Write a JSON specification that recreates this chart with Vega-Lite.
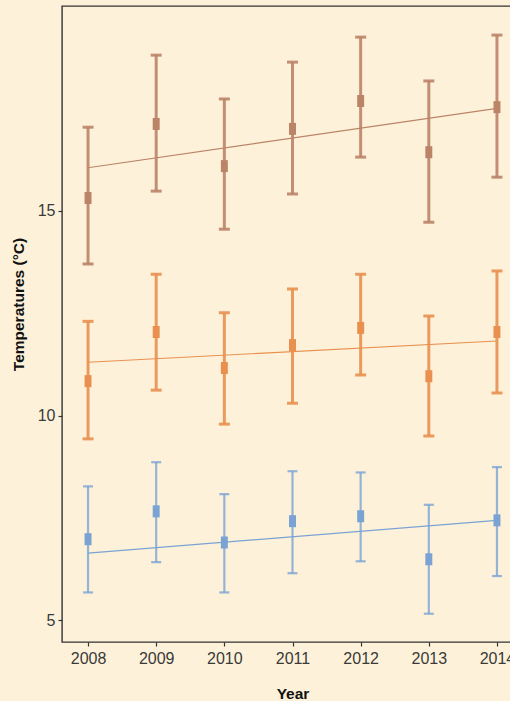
{
  "$schema": "https://vega.github.io/schema/vega-lite/v6.json",
  "autosize": "none",
  "width": 461,
  "height": 636,
  "padding": {"left": 62, "top": 6, "right": 0, "bottom": 59},
  "background": "#fdf2d9",
  "config": {
    "view": {"stroke": "#333333", "strokeWidth": 1.4, "fill": "#fdf2d9"},
    "axis": {
      "domain": false,
      "grid": false,
      "labelFont": "Liberation Sans",
      "labelFontSize": 16,
      "labelColor": "#3a3a3a",
      "tickColor": "#333333",
      "tickSize": 4,
      "tickWidth": 1.2,
      "titleFont": "Liberation Sans",
      "titleFontSize": 15.5,
      "titleFontWeight": "bold",
      "titleColor": "#111111"
    }
  },
  "datasets": {
    "pts": [
      {"year": 2008, "series": "high", "mean": 15.31, "lo": 13.70, "hi": 17.04},
      {"year": 2009, "series": "high", "mean": 17.12, "lo": 15.48, "hi": 18.80},
      {"year": 2010, "series": "high", "mean": 16.09, "lo": 14.55, "hi": 17.73},
      {"year": 2011, "series": "high", "mean": 17.00, "lo": 15.41, "hi": 18.63},
      {"year": 2012, "series": "high", "mean": 17.68, "lo": 16.31, "hi": 19.24},
      {"year": 2013, "series": "high", "mean": 16.43, "lo": 14.72, "hi": 18.17},
      {"year": 2014, "series": "high", "mean": 17.53, "lo": 15.82, "hi": 19.29},
      {"year": 2008, "series": "mid", "mean": 10.84, "lo": 9.43, "hi": 12.30},
      {"year": 2009, "series": "mid", "mean": 12.04, "lo": 10.62, "hi": 13.45},
      {"year": 2010, "series": "mid", "mean": 11.16, "lo": 9.79, "hi": 12.51},
      {"year": 2011, "series": "mid", "mean": 11.72, "lo": 10.30, "hi": 13.09},
      {"year": 2012, "series": "mid", "mean": 12.14, "lo": 10.99, "hi": 13.45},
      {"year": 2013, "series": "mid", "mean": 10.96, "lo": 9.50, "hi": 12.43},
      {"year": 2014, "series": "mid", "mean": 12.04, "lo": 10.55, "hi": 13.53},
      {"year": 2008, "series": "low", "mean": 6.98, "lo": 5.68, "hi": 8.27},
      {"year": 2009, "series": "low", "mean": 7.66, "lo": 6.42, "hi": 8.86},
      {"year": 2010, "series": "low", "mean": 6.90, "lo": 5.68, "hi": 8.08},
      {"year": 2011, "series": "low", "mean": 7.42, "lo": 6.15, "hi": 8.64},
      {"year": 2012, "series": "low", "mean": 7.54, "lo": 6.44, "hi": 8.61},
      {"year": 2013, "series": "low", "mean": 6.49, "lo": 5.16, "hi": 7.82},
      {"year": 2014, "series": "low", "mean": 7.44, "lo": 6.08, "hi": 8.74}
    ],
    "fit": [
      {"year": 2008, "series": "high", "value": 16.05},
      {"year": 2014, "series": "high", "value": 17.50},
      {"year": 2008, "series": "mid", "value": 11.30},
      {"year": 2014, "series": "mid", "value": 11.82},
      {"year": 2008, "series": "low", "value": 6.64},
      {"year": 2014, "series": "low", "value": 7.44}
    ]
  },
  "encoding": {
    "x": {
      "field": "year",
      "type": "quantitative",
      "title": "Year",
      "scale": {"domain": [2007.618, 2014.382], "nice": false, "zero": false},
      "axis": {"values": [2008, 2009, 2010, 2011, 2012, 2013, 2014], "format": "d", "labelPadding": 4, "titlePadding": 20}
    },
    "color": {
      "field": "series",
      "type": "nominal",
      "scale": {"domain": ["high", "mid", "low"], "range": ["#bb8468", "#e99050", "#7aa2d3"]},
      "legend": null
    }
  },
  "layer": [
    {
      "data": {"name": "fit"},
      "mark": {"type": "line", "strokeWidth": 1.1},
      "encoding": {
        "y": {
          "field": "value",
          "type": "quantitative",
          "title": "Temperatures (°C)",
          "scale": {"domain": [4.47, 20.0], "nice": false, "zero": false},
          "axis": {"values": [5, 10, 15], "labelPadding": 3, "titlePadding": 11, "titleY": 298}
        },
        "detail": {"field": "series"}
      }
    },
    {
      "data": {"name": "pts"},
      "transform": [{"filter": "datum.series != 'low'"}],
      "mark": {"type": "rule", "strokeWidth": 3, "opacity": 0.9},
      "encoding": {"y": {"field": "lo", "type": "quantitative"}, "y2": {"field": "hi"}}
    },
    {
      "data": {"name": "pts"},
      "transform": [{"filter": "datum.series == 'low'"}],
      "mark": {"type": "rule", "strokeWidth": 2.2, "opacity": 0.8},
      "encoding": {"y": {"field": "lo", "type": "quantitative"}, "y2": {"field": "hi"}}
    },
    {
      "data": {"name": "pts"},
      "transform": [{"filter": "datum.series != 'low'"}],
      "mark": {"type": "tick", "orient": "horizontal", "size": 11, "thickness": 3, "opacity": 0.9},
      "encoding": {"y": {"field": "lo", "type": "quantitative"}}
    },
    {
      "data": {"name": "pts"},
      "transform": [{"filter": "datum.series != 'low'"}],
      "mark": {"type": "tick", "orient": "horizontal", "size": 11, "thickness": 3, "opacity": 0.9},
      "encoding": {"y": {"field": "hi", "type": "quantitative"}}
    },
    {
      "data": {"name": "pts"},
      "transform": [{"filter": "datum.series == 'low'"}],
      "mark": {"type": "tick", "orient": "horizontal", "size": 10, "thickness": 2.2, "opacity": 0.8},
      "encoding": {"y": {"field": "lo", "type": "quantitative"}}
    },
    {
      "data": {"name": "pts"},
      "transform": [{"filter": "datum.series == 'low'"}],
      "mark": {"type": "tick", "orient": "horizontal", "size": 10, "thickness": 2.2, "opacity": 0.8},
      "encoding": {"y": {"field": "hi", "type": "quantitative"}}
    },
    {
      "data": {"name": "pts"},
      "mark": {"type": "point", "filled": true, "opacity": 1, "shape": "M-0.58,-1H0.58V1H-0.58Z", "size": 144},
      "encoding": {"y": {"field": "mean", "type": "quantitative"}}
    }
  ]
}
